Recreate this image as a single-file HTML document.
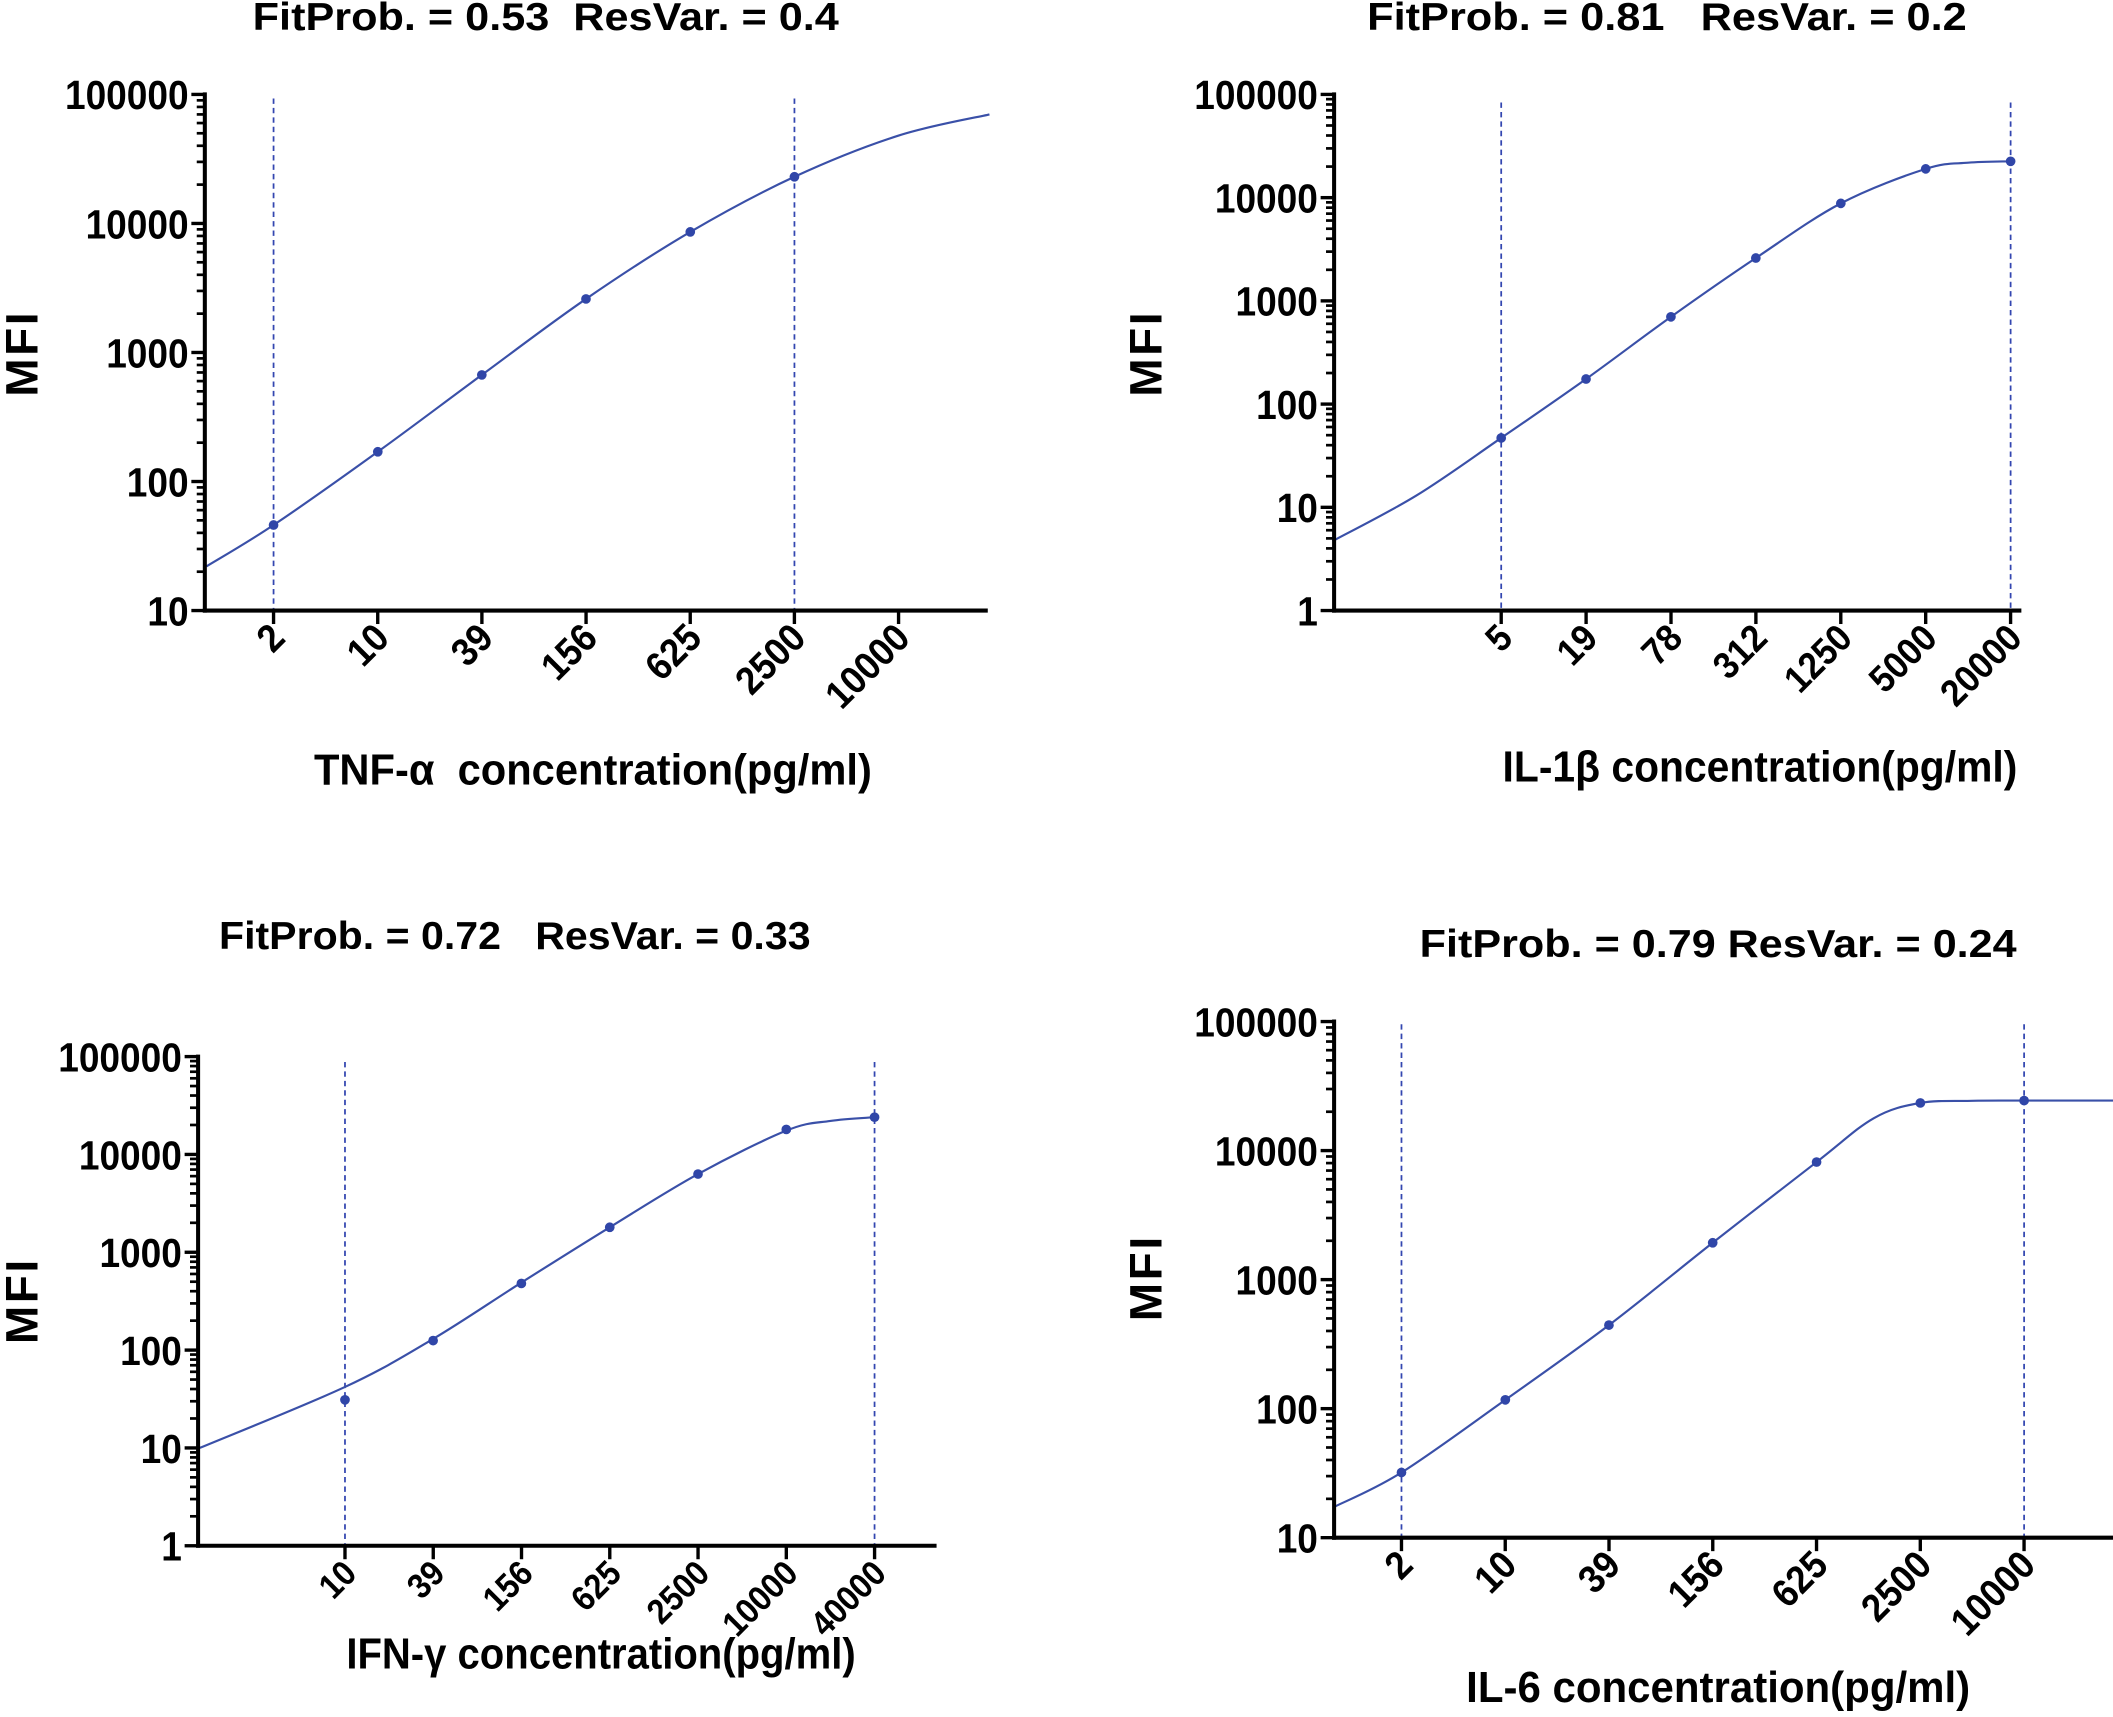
<!DOCTYPE html>
<html><head><meta charset="utf-8"><style>
html,body{margin:0;padding:0;background:#fff;}
svg{display:block;}
text{font-family:"Liberation Sans",Arial,sans-serif;font-weight:bold;fill:#000;}
</style></head><body>
<svg id="fig" width="2113" height="1717" viewBox="0 0 1568 1274" xmlns="http://www.w3.org/2000/svg"></svg>
<script>
// ---- Panel data (concentrations in pg/ml, MFI) ----
const tnfTicks = [2, 10, 39, 156, 625, 2500, 10000];
const tnfPointsX = [2.44, 9.77, 39, 156, 625, 2500];
const tnfPointsY = [46, 170, 670, 2600, 8600, 23000];
const tnfCurveX = [1, 2.44, 9.77, 39, 156, 625, 2500, 10000, 33500];
const tnfCurveY = [22, 46, 170, 670, 2600, 8600, 23000, 48000, 70000];

const il1Ticks = [5, 19, 78, 312, 1250, 5000, 20000];
const il1PointsX = [4.88, 19.5, 78, 312, 1250, 5000, 20000];
const il1PointsY = [47, 175, 700, 2600, 8800, 19000, 22500];
const il1CurveX = [0.31, 1.22, 4.88, 19.5, 78, 312, 1250, 5000, 10000, 20000];
const il1CurveY = [4.7, 13, 47, 175, 700, 2600, 8800, 19000, 21800, 22500];

const ifnTicks = [10, 39, 156, 625, 2500, 10000, 40000];
const ifnPointsX = [9.77, 39, 156, 625, 2500, 10000, 40000];
const ifnPointsY = [31, 125, 480, 1800, 6300, 18000, 24000];
const ifnCurveX = [1, 9.77, 39, 156, 625, 2500, 10000, 20000, 40000];
const ifnCurveY = [10, 42, 130, 490, 1800, 6300, 17500, 22000, 24000];

const il6Ticks = [2, 10, 39, 156, 625, 2500, 10000];
const il6PointsX = [2.44, 9.77, 39, 156, 625, 2500, 10000];
const il6PointsY = [32, 117, 444, 1930, 8150, 23400, 24400];
const il6CurveX = [1, 2.44, 9.77, 39, 156, 625, 1340, 2500, 5000, 10000, 33000];
const il6CurveY = [17.4, 32, 117, 444, 1930, 8150, 17800, 23400, 24300, 24400, 24400];

const NS = "http://www.w3.org/2000/svg";
const svg = document.getElementById('fig');
function mk(tag, attrs, parent, txt){
  const e = document.createElementNS(NS, tag);
  for (const k in attrs) e.setAttribute(k, attrs[k]);
  if (txt !== undefined) e.textContent = txt;
  (parent||svg).appendChild(e);
  return e;
}
const S = '\u00a0';
const panels = [
 {name:'tnf', ticks:tnfTicks, c0:2.44, px:tnfPointsX, py:tnfPointsY, cx:tnfCurveX, cy:tnfCurveY,
  ax:152, x0:203, step:77.3, xEnd:733, yTop:70, yBot:453, yMinExp:1, yMaxExp:5, tch:14.8, tfs:29,
  dash:[2.44,2500], dashTop:73, title:'FitProb. = 0.53'+S+S+'ResVar. = 0.4', tX:405, tY:22, tW:435,
  xt:'TNF-α'+S+' concentration(pg/ml)', xtX:440, xtY:582, xtW:414, mX:16, mY:262},
 {name:'il1b', ticks:il1Ticks, c0:4.88, px:il1PointsX, py:il1PointsY, cx:il1CurveX, cy:il1CurveY,
  ax:990, x0:1114, step:63, xEnd:1500, yTop:70, yBot:453, yMinExp:0, yMaxExp:5, tch:14.3, tfs:28,
  dash:[4.88,20000], dashTop:76, title:'FitProb. = 0.81'+S+S+S+'ResVar. = 0.2', tX:1237, tY:22, tW:445,
  xt:'IL-1β concentration(pg/ml)', xtX:1306, xtY:580, xtW:382, mX:850, mY:262},
 {name:'ifn', ticks:ifnTicks, c0:9.77, px:ifnPointsX, py:ifnPointsY, cx:ifnCurveX, cy:ifnCurveY,
  ax:147, x0:256, step:65.5, xEnd:695, yTop:784, yBot:1147, yMinExp:0, yMaxExp:5, tch:13.2, tfs:26,
  dash:[9.77,40000], dashTop:788, title:'FitProb. = 0.72'+S+S+S+'ResVar. = 0.33', tX:382, tY:704, tW:439,
  xt:'IFN-γ concentration(pg/ml)', xtX:446, xtY:1238, xtW:378, mX:16, mY:965},
 {name:'il6', ticks:il6Ticks, c0:2.44, px:il6PointsX, py:il6PointsY, cx:il6CurveX, cy:il6CurveY,
  ax:990, x0:1040, step:77, xEnd:1568, yTop:758, yBot:1141, yMinExp:1, yMaxExp:5, tch:14.8, tfs:29,
  dash:[2.44,10000], dashTop:760, title:'FitProb. = 0.79 ResVar. = 0.24', tX:1275, tY:710, tW:443,
  xt:'IL-6 concentration(pg/ml)', xtX:1275, xtY:1263, xtW:374, mX:850, mY:948}
];

const BLUE = '#3a50a8';

panels.forEach(p => {
  const g = mk('g', {});
  
  
  const xS = c => p.x0 + Math.log(c / p.c0) / Math.log(4) * p.step;
  const dec = (p.yBot - p.yTop) / (p.yMaxExp - p.yMinExp);
  const yS = v => p.yBot - (Math.log10(v) - p.yMinExp) * dec;

  p.dash.forEach((c, i) => {
    const l = mk('line', {x1:xS(c), x2:xS(c), y1:p.dashTop, y2:p.yBot, stroke:'#3346b0', 'stroke-width':1.3, 'stroke-dasharray':'4,3'}, g);
    
    
  });

  const pts = p.cx.map((c, i) => [xS(c), yS(p.cy[i])]);
  let d = 'M' + pts[0][0] + ',' + pts[0][1];
  for (let i = 0; i < pts.length - 1; i++) {
    const p0 = pts[i-1] || pts[i], p1 = pts[i], p2 = pts[i+1], p3 = pts[i+2] || pts[i+1];
    const c1 = [p1[0] + (p2[0]-p0[0])/6, p1[1] + (p2[1]-p0[1])/6];
    const c2 = [p2[0] - (p3[0]-p1[0])/6, p2[1] - (p3[1]-p1[1])/6];
    d += ' C' + c1 + ' ' + c2 + ' ' + p2;
  }
  const cv = mk('path', {d:d, fill:'none', stroke:BLUE, 'stroke-width':1.6}, g);
  
  

  p.px.forEach((c, i) => {
    const pt = mk('circle', {cx:xS(c), cy:yS(p.py[i]), r:3.6, fill:'#3046a8'}, g);
    
    
  });

  const ya = mk('line', {x1:p.ax, x2:p.ax, y1:p.yTop - 1.5, y2:p.yBot + 1.5, stroke:'#000', 'stroke-width':3}, g);
  
  
  const xa = mk('line', {x1:p.ax - 1.5, x2:p.xEnd, y1:p.yBot, y2:p.yBot, stroke:'#000', 'stroke-width':3}, g);
  
  

  for (let e = p.yMinExp; e <= p.yMaxExp; e++) {
    const y = yS(Math.pow(10, e));
    mk('line', {x1:p.ax - 10, x2:p.ax, y1:y, y2:y, stroke:'#000', 'stroke-width':2.5}, g);
    const lbl = String(Math.pow(10, e));
    const t = mk('text', {x:p.ax - 12, y:y + 11, 'text-anchor':'end', 'font-size':30,
      textLength:lbl.length * 15.3, lengthAdjust:'spacingAndGlyphs'}, g, lbl);
    
    
    if (e < p.yMaxExp) {
      for (let m = 2; m <= 9; m++) {
        const ym = yS(m * Math.pow(10, e));
        mk('line', {x1:p.ax - 6, x2:p.ax, y1:ym, y2:ym, stroke:'#000', 'stroke-width':2}, g);
      }
    }
  }

  p.ticks.forEach((v, i) => {
    const x = p.x0 + i * p.step;
    mk('line', {x1:x, x2:x, y1:p.yBot, y2:p.yBot + 10, stroke:'#000', 'stroke-width':2.5}, g);
    const lbl = String(v);
    const t = mk('text', {x:x + 10, y:p.yBot + 22, 'text-anchor':'end', 'font-size':p.tfs,
      textLength:lbl.length * p.tch, lengthAdjust:'spacingAndGlyphs',
      transform:'rotate(-45 ' + (x + 10) + ' ' + (p.yBot + 22) + ')'}, g, lbl);
    
    
  });

  const tt = mk('text', {x:p.tX, y:p.tY, 'text-anchor':'middle', 'font-size':29, textLength:p.tW, lengthAdjust:'spacingAndGlyphs'}, g, p.title);
  
  
  const xt = mk('text', {x:p.xtX, y:p.xtY, 'text-anchor':'middle', 'font-size':32, textLength:p.xtW, lengthAdjust:'spacingAndGlyphs'}, g, p.xt);
  
  
  const mt = mk('text', {x:p.mX + 12, y:p.mY, 'text-anchor':'middle', 'font-size':34, 'letter-spacing':2,
    transform:'rotate(-90 ' + (p.mX + 12) + ' ' + p.mY + ')'}, g, 'MFI');
  
  
});
</script>
</body></html>
